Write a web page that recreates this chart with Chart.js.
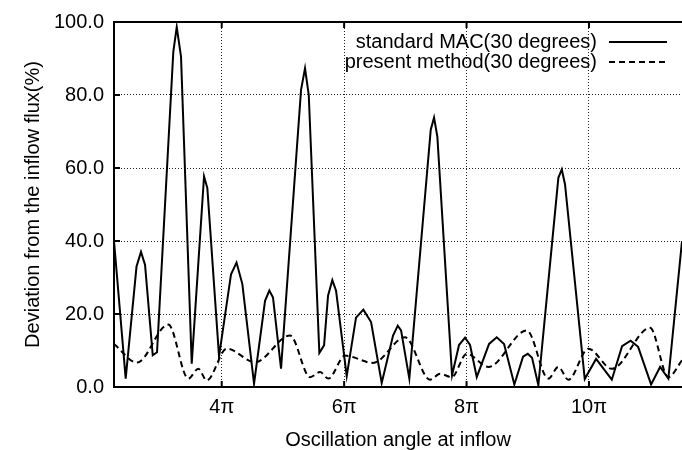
<!DOCTYPE html>
<html lang="en">
<head>
  <meta charset="UTF-8">
  <title>Deviation from the inflow flux</title>
  <script src="https://cdn.jsdelivr.net/npm/chart.js"></script>
  <style>
    html, body { margin: 0; padding: 0; background: #fff; overflow: hidden; }
    #wrap { width: 682px; height: 450px; }
  </style>
</head>
<body>
  <div id="wrap"><canvas id="flux"></canvas></div>

  <script>
    // angle is in units of pi
    const macAngle = [2.24, 2.431, 2.608, 2.681, 2.747, 2.873, 2.943, 3.209, 3.265, 3.335, 3.51, 3.711, 3.765, 3.956,
      4.152, 4.242, 4.337, 4.528, 4.708, 4.778, 4.838, 4.969, 5.296, 5.361, 5.422, 5.595, 5.672, 5.737, 5.807, 5.868,
      6.042, 6.194, 6.314, 6.44, 6.614, 6.799, 6.876, 6.93, 7.065, 7.415, 7.469, 7.523, 7.763, 7.877, 7.975, 8.057,
      8.167, 8.368, 8.493, 8.613, 8.781, 8.923, 9.0, 9.07, 9.173, 9.5, 9.556, 9.609, 9.931, 10.116, 10.373, 10.541,
      10.68, 10.803, 11.015, 11.162, 11.297, 11.52];
    const macDeviation = [40, 2.3, 33, 37, 33.5, 8.7, 9.5, 91.8, 98.6, 90.5, 6.4, 57.7, 54.5, 8.4,
      30.9, 34.1, 28.2, 0.9, 23.6, 26.4, 24.5, 5.0, 81.4, 87.3, 80, 9.3, 11.4, 25, 29.3, 26.4,
      3.0, 19.0, 21.2, 17.8, 1.1, 14.1, 16.8, 15.5, 2.3, 70.5, 73.8, 68.6, 3.2, 11.5, 13.5, 11.5,
      2.7, 11.8, 13.6, 11.8, 0.7, 8.3, 9.1, 8.0, 0.5, 57.3, 59.6, 55.5, 2.2, 7.7, 2.0, 11.2,
      12.7, 11.0, 0.7, 5.5, 2.3, 40];

    const presentAngle = [2.24, 2.616, 3.127, 3.454, 3.618, 3.755, 4.082, 4.544, 5.116, 5.443, 5.606, 5.742,
      6.015, 6.472, 6.995, 7.404, 7.567, 7.758, 8.003, 8.356, 8.984, 9.337, 9.5, 9.663, 9.99, 10.373,
      10.998, 11.297, 11.52];
    const presentDeviation = [11.8, 6.7, 17.1, 2.3, 5.0, 1.8, 10.5, 6.8, 14.1, 2.7, 4.1, 2.3,
      8.6, 6.6, 13.6, 2.0, 3.6, 2.7, 9.1, 5.5, 15.5, 2.3, 5.5, 2.0, 10.5, 5.0,
      16.2, 2.7, 7.3];

    const xTickValues = [4, 6, 8, 10];
    const xTickLabels = ['4π', '6π', '8π', '10π'];
    const yTickValues = [0, 20, 40, 60, 80, 100];

    const seriesNames = ['standard MAC(30 degrees)', 'present method(30 degrees)'];

    const FONT = '"Liberation Sans", Arial, Helvetica, sans-serif';

    function toPoints(xs, ys) {
      return xs.map((x, i) => ({ x: x, y: ys[i] }));
    }

    // box top edge, inward tick marks and the key in the upper right
    const frame = {
      id: 'frame',
      afterDraw(chart) {
        const ctx = chart.ctx;
        const a = chart.chartArea;
        const xs = chart.scales.x, ys = chart.scales.y;
        ctx.save();
        ctx.strokeStyle = '#000';
        ctx.lineWidth = 2;
        ctx.beginPath();
        ctx.moveTo(a.left - 1, a.top);
        ctx.lineTo(a.right, a.top);
        ctx.stroke();
        ctx.lineWidth = 2;
        ctx.beginPath();
        xTickValues.forEach(v => {
          const px = xs.getPixelForValue(v);
          ctx.moveTo(px, a.bottom); ctx.lineTo(px, a.bottom - 6);
          ctx.moveTo(px, a.top); ctx.lineTo(px, a.top + 6);
        });
        yTickValues.forEach(v => {
          const py = ys.getPixelForValue(v);
          ctx.moveTo(a.left, py); ctx.lineTo(a.left + 6, py);
        });
        ctx.stroke();

        // key
        ctx.font = '20px ' + FONT;
        ctx.fillStyle = '#000';
        ctx.textAlign = 'right';
        ctx.textBaseline = 'middle';
        chart.data.datasets.forEach((ds, i) => {
          const y = 42 + i * 20;
          ctx.fillText(ds.label, 597, y);
          ctx.setLineDash(ds.borderDash || []);
          ctx.lineWidth = 2;
          ctx.beginPath();
          ctx.moveTo(609, y);
          ctx.lineTo(667, y);
          ctx.stroke();
        });
        ctx.restore();
      }
    };

    new Chart(document.getElementById('flux'), {
      type: 'line',
      data: {
        datasets: [
          {
            label: seriesNames[0],
            data: toPoints(macAngle, macDeviation),
            borderColor: '#000',
            borderWidth: 2,
            pointRadius: 0,
            tension: 0,
            fill: false
          },
          {
            label: seriesNames[1],
            data: toPoints(presentAngle, presentDeviation),
            borderColor: '#000',
            borderWidth: 2,
            borderDash: [6, 4],
            pointRadius: 0,
            cubicInterpolationMode: 'monotone',
            fill: false
          }
        ]
      },
      options: {
        responsive: true,
        maintainAspectRatio: false,
        animation: false,
        layout: { padding: { top: 20, right: 0, bottom: 0, left: 0 } },
        plugins: { legend: { display: false }, tooltip: { enabled: false } },
        scales: {
          x: {
            type: 'linear',
            min: 2.24,
            max: 11.52,
            afterBuildTicks: (scale) => { scale.ticks = xTickValues.map(v => ({ value: v })); },
            afterFit: (scale) => { scale.height = 63; },
            ticks: {
              color: '#000',
              padding: 8,
              font: { family: FONT, size: 20 },
              callback: (v) => xTickLabels[xTickValues.indexOf(v)]
            },
            grid: { color: '#222', lineWidth: 1, drawTicks: false, tickBorderDash: [], },
            border: { display: true, color: '#000', width: 2, dash: [1, 2] },
            title: {
              display: true,
              text: 'Oscillation angle at inflow',
              color: '#000',
              font: { family: FONT, size: 20, lineHeight: 1 },
              padding: { top: 0, bottom: 0 }
            }
          },
          y: {
            min: 0,
            max: 100,
            afterBuildTicks: (scale) => { scale.ticks = yTickValues.map(v => ({ value: v })); },
            afterFit: (scale) => { scale.width = 114; },
            ticks: {
              color: '#000',
              padding: 10,
              font: { family: FONT, size: 20 },
              callback: (v) => v.toFixed(1)
            },
            grid: { color: '#222', lineWidth: 1, drawTicks: false },
            border: { display: true, color: '#000', width: 2, dash: [1, 2] },
            title: {
              display: true,
              text: 'Deviation from the inflow flux(%)',
              color: '#000',
              font: { family: FONT, size: 20, lineHeight: 1 },
              padding: { top: 23, bottom: 0 }
            }
          }
        }
      },
      plugins: [frame]
    });
  </script>
</body>
</html>
